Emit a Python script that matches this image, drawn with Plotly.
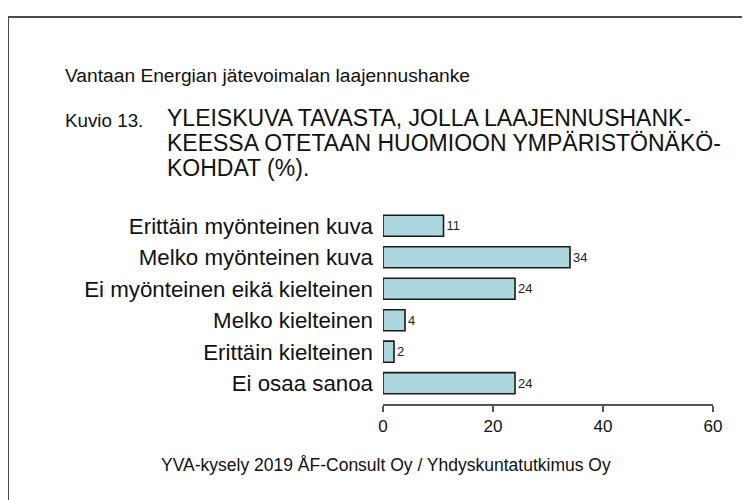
import plotly.graph_objects as go

categories = [
    "Erittäin myönteinen kuva",
    "Melko myönteinen kuva",
    "Ei myönteinen eikä kielteinen",
    "Melko kielteinen",
    "Erittäin kielteinen",
    "Ei osaa sanoa",
]
values = [11, 34, 24, 4, 2, 24]
x_ticks = [0, 20, 40, 60]

title_text = "Vantaan Energian jätevoimalan laajennushanke"
fig_label = "Kuvio 13."
subtitle_lines = [
    "YLEISKUVA TAVASTA, JOLLA LAAJENNUSHANK-",
    "KEESSA OTETAAN HUOMIOON YMPÄRISTÖNÄKÖ-",
    "KOHDAT (%).",
]
source_text = "YVA-kysely 2019 ÅF-Consult Oy / Yhdyskuntatutkimus Oy"

OFF = 8  # page body margin
W, H = 750 - OFF, 500 - OFF
ML, MR, MT, MB = 383 - OFF, 37, 210 - OFF, 96
PW, PH = W - ML - MR, H - MT - MB

def px(x):  # page pixel -> paper
    return (x - OFF - ML) / PW

def py(y):
    return (H - MB - (y - OFF)) / PH

FONT = "Arial, Liberation Sans, sans-serif"

fig = go.Figure(
    go.Bar(
        x=values,
        y=categories,
        orientation="h",
        marker=dict(color="#acd7de", line=dict(color="#1a1a1a", width=1.6)),
        text=[str(v) for v in values],
        textposition="outside",
        textfont=dict(size=13, color="#222222", family=FONT),
        cliponaxis=False,
        width=0.67,
    )
)

fig.update_layout(
    width=W,
    height=H,
    margin=dict(l=ML, r=MR, t=MT, b=MB),
    paper_bgcolor="white",
    plot_bgcolor="white",
    showlegend=False,
    font=dict(family=FONT, color="#111111"),
    xaxis=dict(
        range=[0, 60],
        tickvals=x_ticks,
        ticktext=[str(t) for t in x_ticks],
        showgrid=False,
        zeroline=False,
        showline=True,
        linecolor="#555555",
        linewidth=1.5,
        ticks="outside",
        ticklen=6,
        tickwidth=1.5,
        tickcolor="#555555",
        tickfont=dict(size=17, color="#111111"),
        fixedrange=True,
    ),
    yaxis=dict(
        categoryorder="array",
        categoryarray=categories[::-1],
        range=[-0.66, 5.5],
        showgrid=False,
        zeroline=False,
        showline=False,
        ticks="",
        ticklabelstandoff=9,
        tickfont=dict(size=22.3, color="#111111"),
        fixedrange=True,
    ),
)

annotations = [
    dict(text=title_text, x=px(63), y=py(75), size=19.2),
    dict(text=fig_label, x=px(63), y=py(120), size=18.8),
]
for i, line in enumerate(subtitle_lines):
    annotations.append(dict(text=line, x=px(165), y=py(118 + 25 * i), size=23))

for a in annotations:
    fig.add_annotation(
        text=a["text"], x=a["x"], y=a["y"], xref="paper", yref="paper",
        xanchor="left", yanchor="middle", showarrow=False,
        font=dict(size=a["size"], color="#111111", family=FONT),
    )

fig.add_annotation(
    text=source_text, x=px(386), y=py(465), xref="paper", yref="paper",
    xanchor="center", yanchor="middle", showarrow=False,
    font=dict(size=17.5, color="#111111", family=FONT),
)

fig.add_shape(
    type="rect", xref="paper", yref="paper",
    x0=px(8), y0=py(530), x1=px(780), y1=py(17),
    line=dict(color="#4a4a4a", width=2), fillcolor="rgba(0,0,0,0)", layer="below",
)

fig.write_html("out.html")
